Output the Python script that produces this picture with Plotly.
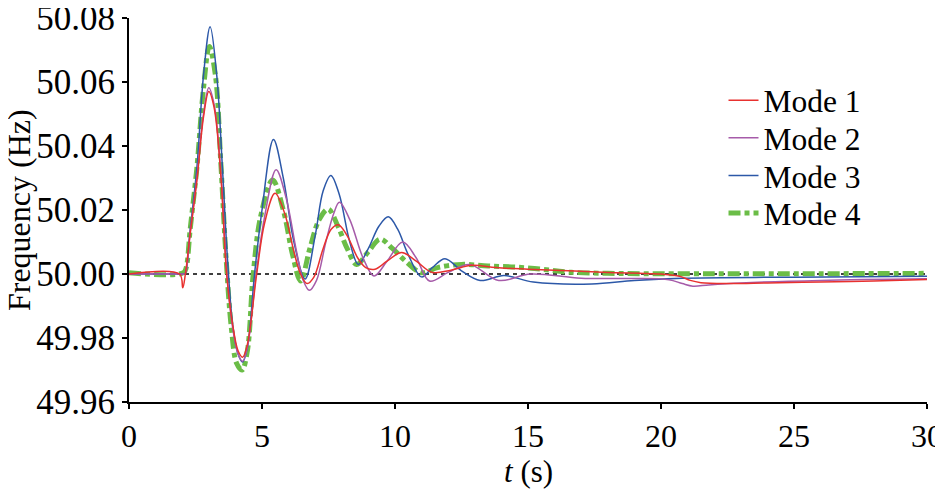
import plotly.graph_objects as go

# Mode 1 (red)
t1 = [0, 1.9, 2.02, 2.12, 2.3, 2.55, 2.8, 3.0, 3.2, 3.45, 3.67, 3.9, 4.1, 4.27, 4.45, 4.8, 5.1, 5.49, 5.85, 6.2,
      6.45, 6.7, 6.95, 7.3, 7.6, 7.87, 8.2, 8.6, 8.9, 9.25, 9.7, 10.25, 10.8, 11.4, 12.1, 12.9, 13.8, 15.0, 16.5,
      18.0, 20.0, 20.7, 21.1, 21.5, 22.5, 24.0, 26.0, 28.0, 30.0]
f1 = [50.0, 50.0, 49.9957, 50.0, 50.0126, 50.029, 50.049, 50.057, 50.052, 50.031, 50.0, 49.984, 49.976, 49.974,
      49.978, 50.0, 50.016, 50.0252, 50.019, 50.007, 50.0, 49.997, 49.999, 50.008, 50.014, 50.0154, 50.012, 50.005,
      50.002, 50.0015, 50.004, 50.0067, 50.004, 50.0005, 50.0012, 50.0027, 50.002, 50.0015, 50.001, 50.0005, 50.0,
      49.9993, 49.998, 49.9973, 49.997, 49.9972, 49.9975, 49.9978, 49.9983]

# Mode 2 (purple)
t2 = [0, 2.0, 2.1, 2.3, 2.55, 2.8, 3.0, 3.2, 3.45, 3.68, 3.9, 4.1, 4.27, 4.45, 4.78, 5.1, 5.53, 5.9, 6.3, 6.55,
      6.78, 7.05, 7.4, 7.7, 7.91, 8.3, 8.8, 9.21, 9.7, 10.29, 10.8, 11.3, 12.0, 12.8, 13.9, 15.1, 17.0, 19.0, 20.3,
      20.8, 21.2, 21.8, 23.0, 26.0, 30.0]
f2 = [50.0, 50.0, 50.0, 50.013, 50.03, 50.05, 50.0582, 50.053, 50.032, 50.0, 49.983, 49.975, 49.9727, 49.977, 50.0,
      50.018, 50.0326, 50.024, 50.007, 49.998, 49.9949, 49.998, 50.01, 50.019, 50.0224, 50.017, 50.005, 49.9994,
      50.004, 50.010, 50.005, 49.9978, 50.0005, 50.003, 49.998, 50.0, 49.9987, 49.9986, 49.9982, 49.997, 49.9962,
      49.9966, 49.9972, 49.998, 49.9985]

# Mode 3 (blue)
t3 = [0, 2.0, 2.1, 2.3, 2.55, 2.8, 3.05, 3.3, 3.5, 3.7, 3.9, 4.1, 4.27, 4.45, 4.72, 5.0, 5.43, 5.8, 6.2, 6.62, 7.0,
      7.3, 7.59, 7.9, 8.3, 8.62, 9.0, 9.4, 9.75, 10.1, 10.5, 11.0, 11.4, 11.88, 12.5, 13.2, 14.1, 15.2, 17.4, 19.0,
      20.8, 25.0, 30.0]
f3 = [50.0, 50.0, 50.0, 50.014, 50.033, 50.062, 50.0773, 50.062, 50.035, 50.005, 49.984, 49.975, 49.9725, 49.977,
      50.0, 50.02, 50.042, 50.03, 50.01, 49.9984, 50.012, 50.026, 50.0308, 50.025, 50.01, 50.003, 50.008, 50.015,
      50.0179, 50.014, 50.006, 49.9991, 50.002, 50.0048, 50.001, 49.998, 49.9995, 49.9975, 49.9969, 49.998,
      49.9987, 49.999, 49.9993]

# Mode 4 (green)
t4 = [0, 2.05, 2.15, 2.3, 2.55, 2.8, 3.02, 3.25, 3.45, 3.65, 3.85, 4.05, 4.25, 4.45, 4.67, 4.95, 5.40, 5.8, 6.15,
      6.45, 6.8, 7.15, 7.49, 7.85, 8.2, 8.56, 9.0, 9.44, 9.9, 10.4, 11.0, 11.6, 12.5, 13.5, 14.5, 15.5, 16.5, 18.0,
      22.0, 26.0, 30.0]
f4 = [50.0004, 50.0004, 50.002, 50.014, 50.033, 50.058, 50.0711, 50.062, 50.035, 50.005, 49.983, 49.972, 49.970,
      49.976, 50.0, 50.018, 50.0294, 50.02, 50.006, 49.9978, 50.008, 50.017, 50.0203, 50.015, 50.008, 50.003,
      50.007, 50.0109, 50.008, 50.004, 50.0004, 50.002, 50.003, 50.0025, 50.0022, 50.0015, 50.0006, 50.0002,
      50.0001, 50.0001, 50.0002]

names = ["Mode 1", "Mode 2", "Mode 3", "Mode 4"]
x_ticks = [0, 5, 10, 15, 20, 25, 30]
y_ticks = [49.96, 49.98, 50.00, 50.02, 50.04, 50.06, 50.08]
ref_t = [0, 30]
ref_f = [50.0, 50.0]

FONT = "Liberation Serif"
fig = go.Figure()

fig.add_trace(go.Scatter(x=ref_t, y=ref_f, mode="lines", showlegend=False,
                         line=dict(color="black", width=1.6, dash="4px,4px")))
fig.add_trace(go.Scatter(x=t4, y=f4, mode="lines", name=names[3], legend="legend4",
                         line=dict(color="#6bbd47", width=5, dash="12px,4px,5px,4px", shape="spline", smoothing=1)))
fig.add_trace(go.Scatter(x=t3, y=f3, mode="lines", name=names[2], legend="legend3",
                         line=dict(color="#2c58a8", width=1.5, shape="spline", smoothing=1)))
fig.add_trace(go.Scatter(x=t2, y=f2, mode="lines", name=names[1], legend="legend2",
                         line=dict(color="#a65ba9", width=1.5, shape="spline", smoothing=1)))
fig.add_trace(go.Scatter(x=t1, y=f1, mode="lines", name=names[0], legend="legend",
                         line=dict(color="#e8312f", width=1.5, shape="spline", smoothing=1)))

leg_common = dict(x=0.745, xanchor="left", yanchor="middle", bgcolor="rgba(0,0,0,0)",
                  font=dict(family=FONT, size=31.5, color="black"), itemwidth=30)

fig.update_layout(
    width=935, height=481,
    margin=dict(l=121, r=16, t=10, b=87),
    paper_bgcolor="white", plot_bgcolor="white",
    font=dict(family=FONT, size=30, color="black"),
    legend=dict(y=0.786, **leg_common),
    legend2=dict(y=0.688, **leg_common),
    legend3=dict(y=0.590, **leg_common),
    legend4=dict(y=0.492, **leg_common),
    xaxis=dict(range=[0, 30], tickvals=x_ticks, ticktext=[str(v) for v in x_ticks], automargin=False,
               ticklabeloverflow="allow",
               showgrid=False, zeroline=False, showline=True, linecolor="black", linewidth=2,
               ticks="outside", ticklen=5, tickwidth=2, tickcolor="black",
               tickfont=dict(family=FONT, size=32)),
    yaxis=dict(range=[49.96, 50.08], tickvals=y_ticks, ticktext=[f"{v:.2f}" for v in y_ticks], automargin=False,
               ticklabeloverflow="allow",
               showgrid=False, zeroline=False, showline=True, linecolor="black", linewidth=2,
               ticks="outside", ticklen=5, tickwidth=2, tickcolor="black",
               tickfont=dict(family=FONT, size=35)),
    annotations=[
        dict(text="<i>t</i> (s)", xref="paper", yref="paper", x=0.5, y=-0.1797, xanchor="center",
             yanchor="middle", showarrow=False, font=dict(family=FONT, size=31, color="black")),
        dict(text="Frequency (Hz)", xref="paper", yref="paper", x=-0.1378, y=0.5, xanchor="center",
             yanchor="middle", textangle=-90, showarrow=False, font=dict(family=FONT, size=32, color="black")),
    ],
)

fig.write_html("out.html")
